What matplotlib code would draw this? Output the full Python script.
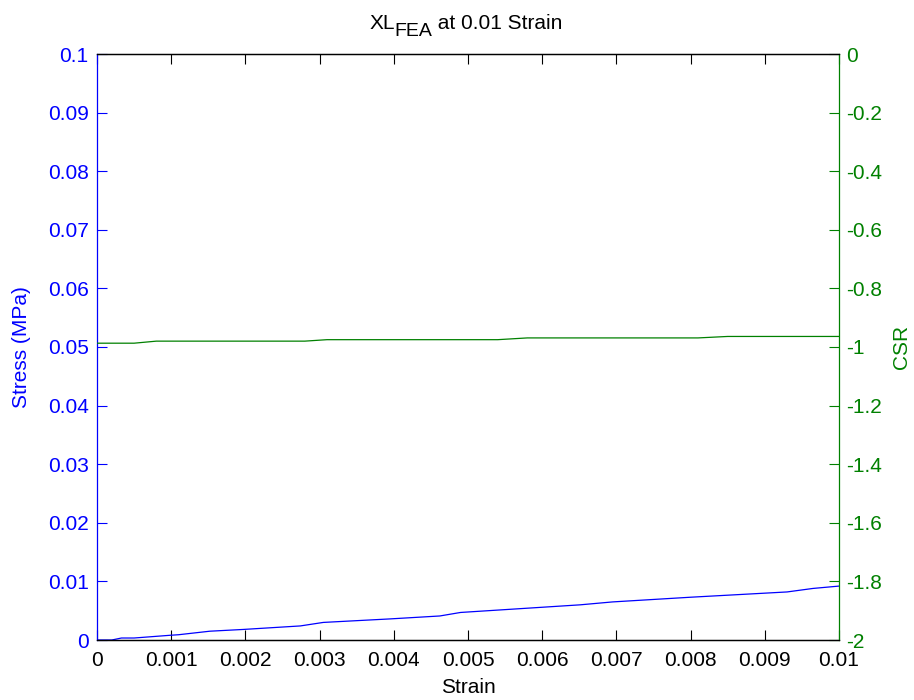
import matplotlib
matplotlib.use("Agg")
import matplotlib.pyplot as plt

plt.rcParams['font.family'] = ['Liberation Sans', 'DejaVu Sans']

# stress-strain curve (left axis)
strain = [0.0, 0.0002, 0.00033, 0.0005, 0.00098, 0.0011, 0.00152, 0.00197,
          0.00274, 0.00305, 0.00395, 0.00462, 0.0049, 0.00651, 0.00695,
          0.0080, 0.0093, 0.00965, 0.01]
stress = [0.0, 0.0, 0.00034, 0.00034, 0.0008, 0.0009, 0.0015, 0.0018,
          0.0024, 0.003, 0.0036, 0.0041, 0.0047, 0.006, 0.0065,
          0.0073, 0.0082, 0.0088, 0.0092]

# CSR curve (right axis)
csr_strain = [0.0, 0.0005, 0.0008, 0.0028, 0.0031, 0.0054, 0.0058,
              0.0081, 0.0085, 0.01]
csr = [-0.987, -0.987, -0.980, -0.980, -0.975, -0.975, -0.969,
       -0.969, -0.964, -0.964]

xticks = [0, 0.001, 0.002, 0.003, 0.004, 0.005, 0.006, 0.007, 0.008, 0.009, 0.01]
yticks_left = [0, 0.01, 0.02, 0.03, 0.04, 0.05, 0.06, 0.07, 0.08, 0.09, 0.1]
yticks_right = [0, -0.2, -0.4, -0.6, -0.8, -1, -1.2, -1.4, -1.6, -1.8, -2]

blue = '#0000ff'
green = '#008000'
fs = 15

fig = plt.figure(figsize=(9.14, 7.0), dpi=100)
ax = fig.add_axes([97 / 914, 1 - 640 / 700, (839 - 97) / 914, (640 - 54) / 700])
ax2 = ax.twinx()

ax.plot(strain, stress, color=blue, lw=0.9)
ax2.plot(csr_strain, csr, color=green, lw=0.9)

ax.set_xlim(0, 0.01)
ax.set_ylim(0, 0.1)
ax2.set_ylim(-2, 0)

ax.set_xticks(xticks)
ax.set_xticklabels([f"{v:g}" for v in xticks])
ax.set_yticks(yticks_left)
ax.set_yticklabels([f"{v:g}" for v in yticks_left])
ax2.set_yticks(yticks_right)
ax2.set_yticklabels([f"{v:g}" for v in yticks_right])

ax.tick_params(axis='x', direction='in', length=7, width=0.8, colors='black',
               labelsize=fs, top=True, pad=8)
ax.tick_params(axis='y', direction='in', length=7, width=0.8, colors=blue,
               labelsize=fs, pad=6)
ax2.tick_params(axis='y', direction='in', length=7, width=0.8, colors=green,
                labelsize=fs, pad=5)

for a in (ax, ax2):
    for s in a.spines.values():
        s.set_linewidth(0.9)
    a.spines['top'].set_color('black')
    a.spines['bottom'].set_color('black')
    a.spines['left'].set_color(blue)
    a.spines['right'].set_color(green)
    a.spines['left'].set_visible(a is ax)
    a.spines['right'].set_visible(a is ax2)

ax.set_xlabel('Strain', fontsize=fs, labelpad=6)
ax.set_ylabel('Stress (MPa)', fontsize=fs, color=blue, labelpad=12)
ax2.set_ylabel('CSR', fontsize=fs, color=green, labelpad=7)

# title with a lowered subscript, built from three pieces
t1 = fig.text(0, 1 - 29 / 700, 'XL', fontsize=fs, ha='left', va='baseline')
t2 = fig.text(0, 1 - 36 / 700, 'FEA', fontsize=fs - 1, ha='left', va='baseline')
t3 = fig.text(0, 1 - 29 / 700, ' at 0.01 Strain', fontsize=fs, ha='left', va='baseline')
fig.canvas.draw()
r = fig.canvas.get_renderer()
w1 = t1.get_window_extent(r).width
w2 = t2.get_window_extent(r).width
w3 = t3.get_window_extent(r).width
x0 = 466 - (w1 + w2 + w3) / 2
t1.set_x(x0 / 914)
t2.set_x((x0 + w1) / 914)
t3.set_x((x0 + w1 + w2) / 914)

fig.savefig('out.png', dpi=100)
